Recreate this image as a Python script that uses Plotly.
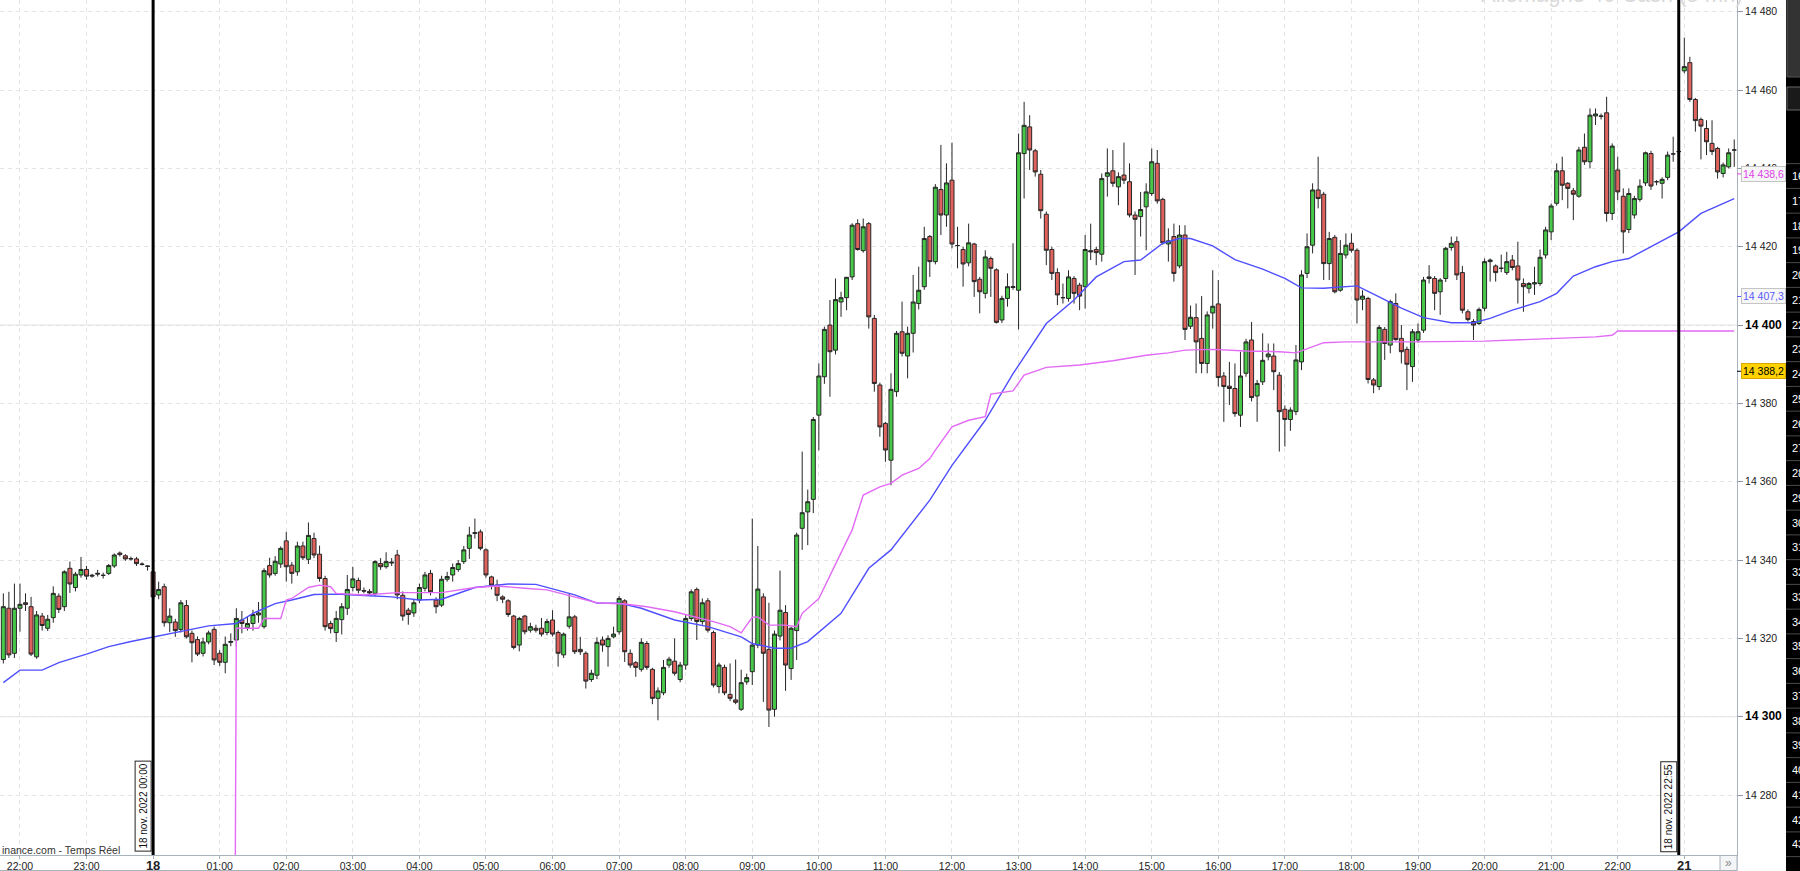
import plotly.graph_objects as go

# ---------------- data (5-min bars, index 0 = 17 nov 21:45) ----------------
bar_open = [
 14314.6, 14327.7, 14316.2, 14327.7, 14329.1, 14328.1, 14315.3, 14325.7, 14322.6, 14325.3,
 14330.8, 14328.1, 14337.9, 14333.0, 14336.2, 14337.6, 14335.9, 14336.4, 14336.1, 14336.6,
 14338.5, 14341.8, 14341.1, 14340.4, 14340.3, 14339.0, 14338.5, 14337.0, 14331.1, 14333.2,
 14324.0, 14324.2, 14322.3, 14328.4, 14321.3, 14319.7, 14316.2, 14319.1, 14322.3, 14316.2,
 14313.9, 14319.0, 14319.6, 14324.7, 14322.8, 14323.8, 14326.0, 14323.0, 14338.6, 14336.6,
 14339.0, 14344.9, 14338.7, 14337.0, 14343.6, 14340.2, 14345.5, 14341.5, 14335.3, 14323.8,
 14321.5, 14324.8, 14327.7, 14333.0, 14334.8, 14332.2, 14332.0, 14331.5, 14339.1, 14338.3,
 14339.5, 14341.3, 14331.0, 14327.2, 14326.5, 14329.8, 14332.8, 14336.6, 14329.8, 14328.5,
 14335.1, 14336.2, 14337.6, 14339.6, 14343.0, 14346.8, 14347.2, 14342.6, 14335.7, 14333.6,
 14330.6, 14329.6, 14325.7, 14318.3, 14325.7, 14322.1, 14322.6, 14322.6, 14321.5, 14324.7,
 14321.5, 14315.8, 14323.1, 14325.5, 14317.2, 14316.2, 14309.5, 14310.6, 14319.6, 14317.9,
 14320.4, 14321.7, 14329.6, 14316.2, 14313.8, 14312.1, 14318.7, 14312.1, 14304.7, 14306.1,
 14313.2, 14314.2, 14309.5, 14313.2, 14325.1, 14332.5, 14324.3, 14329.6, 14321.5, 14307.7,
 14312.6, 14305.7, 14304.3, 14301.9, 14308.9, 14311.5, 14318.3, 14330.6, 14317.2, 14301.9,
 14320.6, 14326.6, 14312.3, 14322.0, 14348.1, 14352.3, 14355.5, 14377.0, 14386.8, 14400.0,
 14393.6, 14405.9, 14407.0, 14412.3, 14425.9, 14419.0, 14425.9, 14401.7, 14384.7, 14374.9,
 14365.5, 14383.0, 14398.3, 14392.1, 14397.9, 14405.5, 14409.8, 14422.6, 14416.2, 14434.6,
 14428.1, 14437.0, 14420.3, 14419.3, 14415.9, 14420.7, 14411.7, 14408.1, 14417.0, 14414.1,
 14401.3, 14406.8, 14409.6, 14408.9, 14443.8, 14450.6, 14444.5, 14438.5, 14428.3, 14419.3,
 14413.4, 14407.0, 14406.8, 14411.9, 14410.2, 14409.8, 14419.0, 14419.3, 14418.1, 14438.0,
 14439.4, 14435.3, 14438.3, 14436.6, 14428.1, 14427.7, 14430.2, 14433.6, 14441.3, 14432.1,
 14420.7, 14422.6, 14415.1, 14423.0, 14399.7, 14401.9, 14396.6, 14390.2, 14403.1, 14405.4,
 14387.0, 14384.4, 14383.8, 14377.0, 14387.7, 14396.2, 14381.9, 14385.5, 14391.9, 14392.1,
 14387.2, 14378.5, 14375.9, 14377.9, 14390.6, 14413.2, 14420.4, 14434.5, 14433.4, 14415.7,
 14422.4, 14408.9, 14417.9, 14420.9, 14419.1, 14406.6, 14406.8, 14386.0, 14384.3, 14398.9,
 14394.9, 14405.5, 14396.6, 14393.8, 14389.4, 14396.2, 14398.7, 14411.9, 14411.9, 14408.5,
 14411.9, 14419.8, 14421.3, 14413.4, 14403.4, 14400.9, 14400.4, 14404.3, 14416.2, 14415.1,
 14414.5, 14413.4, 14416.6, 14415.1, 14410.6, 14409.4, 14410.5, 14410.6, 14417.9, 14423.8,
 14431.1, 14439.4, 14436.2, 14434.3, 14432.9, 14445.4, 14441.7, 14453.4, 14453.4, 14454.2,
 14428.5, 14439.6, 14432.9, 14424.4, 14428.1, 14432.1, 14436.3, 14443.8, 14436.6, 14436.2,
 14437.7, 14443.7, 14444.3, 14464.9, 14467.0, 14457.6, 14452.5, 14450.2, 14446.4, 14445.1,
 14438.7, 14440.4, 14444.7]
bar_high = [
 14331.5, 14331.9, 14334.0, 14334.0, 14331.5, 14330.6, 14327.0, 14326.5, 14326.0, 14333.3,
 14331.5, 14337.4, 14339.6, 14337.0, 14340.8, 14338.5, 14336.5, 14337.5, 14336.8, 14339.0,
 14341.7, 14342.2, 14341.5, 14340.9, 14340.8, 14339.4, 14338.7, 14337.5, 14334.5, 14334.0,
 14327.7, 14325.0, 14329.8, 14329.8, 14322.0, 14320.5, 14320.2, 14322.0, 14323.0, 14317.0,
 14320.5, 14321.3, 14327.7, 14327.0, 14325.5, 14327.3, 14329.3, 14337.9, 14340.6, 14341.0,
 14343.5, 14347.2, 14339.5, 14344.7, 14344.7, 14349.6, 14347.0, 14343.7, 14336.0, 14324.5,
 14327.0, 14329.0, 14336.2, 14338.3, 14335.5, 14333.0, 14332.6, 14340.0, 14340.5, 14342.0,
 14340.5, 14342.6, 14332.0, 14327.8, 14329.8, 14334.0, 14337.0, 14337.5, 14330.5, 14336.0,
 14337.0, 14339.1, 14340.0, 14343.6, 14348.5, 14350.6, 14347.8, 14343.0, 14336.0, 14335.0,
 14331.0, 14330.0, 14326.0, 14325.5, 14326.0, 14324.0, 14323.5, 14325.2, 14325.0, 14327.2,
 14322.0, 14321.5, 14331.5, 14326.0, 14320.4, 14316.7, 14312.0, 14320.3, 14320.5, 14320.8,
 14323.0, 14330.8, 14330.0, 14317.2, 14314.2, 14320.0, 14319.3, 14312.5, 14307.5, 14314.5,
 14315.3, 14320.0, 14314.0, 14326.0, 14332.5, 14333.0, 14330.2, 14330.3, 14322.0, 14313.8,
 14313.3, 14313.6, 14314.6, 14312.0, 14311.0, 14350.6, 14343.6, 14331.5, 14329.1, 14322.0,
 14337.3, 14328.5, 14323.0, 14347.0, 14367.7, 14358.0, 14376.5, 14390.2, 14399.6, 14406.4,
 14411.9, 14408.5, 14412.3, 14426.0, 14427.0, 14427.2, 14426.3, 14402.6, 14385.3, 14375.3,
 14387.7, 14398.5, 14406.0, 14399.6, 14412.8, 14414.9, 14425.1, 14423.0, 14436.0, 14446.0,
 14441.3, 14446.6, 14425.1, 14420.0, 14425.9, 14421.0, 14412.3, 14419.1, 14417.5, 14414.5,
 14407.5, 14413.2, 14420.9, 14448.9, 14457.0, 14453.6, 14445.0, 14439.6, 14429.0, 14420.0,
 14414.5, 14410.6, 14414.0, 14412.5, 14410.8, 14423.0, 14425.9, 14420.0, 14438.7, 14445.1,
 14444.7, 14439.0, 14446.6, 14441.3, 14429.0, 14434.0, 14436.2, 14445.1, 14444.7, 14432.5,
 14424.7, 14425.9, 14425.5, 14425.5, 14405.0, 14405.5, 14407.4, 14403.5, 14414.0, 14411.5,
 14388.0, 14390.6, 14390.2, 14393.2, 14396.5, 14400.8, 14386.0, 14397.9, 14395.3, 14395.3,
 14388.0, 14379.5, 14379.0, 14394.9, 14414.0, 14423.4, 14436.2, 14443.0, 14434.0, 14423.8,
 14423.0, 14421.7, 14423.4, 14423.4, 14419.6, 14408.9, 14407.2, 14386.5, 14400.0, 14399.5,
 14406.5, 14408.1, 14400.0, 14394.5, 14399.0, 14400.4, 14412.3, 14415.3, 14412.5, 14412.0,
 14420.0, 14422.6, 14422.6, 14415.1, 14404.0, 14401.5, 14404.5, 14417.0, 14417.0, 14415.5,
 14418.0, 14418.7, 14417.9, 14421.3, 14411.9, 14411.0, 14414.9, 14419.3, 14425.1, 14431.0,
 14441.3, 14443.0, 14436.5, 14435.0, 14445.5, 14448.9, 14455.3, 14455.3, 14454.0, 14458.3,
 14446.4, 14443.0, 14434.9, 14434.9, 14433.0, 14437.2, 14444.3, 14444.5, 14437.0, 14437.7,
 14444.3, 14448.1, 14445.0, 14473.4, 14468.5, 14458.0, 14453.0, 14452.3, 14452.3, 14445.5,
 14441.5, 14445.1, 14447.4]
bar_low = [
 14313.6, 14315.0, 14315.0, 14321.7, 14327.0, 14315.5, 14314.8, 14322.0, 14321.9, 14324.0,
 14326.5, 14327.0, 14331.6, 14332.0, 14335.5, 14335.0, 14335.5, 14335.8, 14335.3, 14336.2,
 14338.0, 14340.9, 14339.8, 14339.9, 14338.5, 14338.6, 14337.3, 14329.8, 14330.0, 14323.0,
 14321.6, 14320.4, 14321.5, 14320.0, 14313.9, 14315.5, 14315.4, 14318.5, 14313.2, 14313.0,
 14311.1, 14318.0, 14317.9, 14321.3, 14322.0, 14322.0, 14324.0, 14322.5, 14335.5, 14336.0,
 14338.0, 14334.5, 14334.0, 14336.0, 14340.0, 14339.0, 14340.5, 14334.5, 14322.0, 14321.3,
 14319.1, 14321.0, 14326.0, 14332.0, 14331.5, 14331.5, 14331.0, 14330.8, 14337.5, 14337.8,
 14338.5, 14330.0, 14324.5, 14323.5, 14325.5, 14329.0, 14332.0, 14331.0, 14326.4, 14328.0,
 14334.5, 14334.5, 14337.0, 14339.0, 14340.3, 14345.5, 14342.5, 14335.5, 14332.5, 14329.5,
 14329.0, 14325.5, 14317.2, 14316.7, 14321.0, 14321.5, 14321.5, 14320.5, 14320.8, 14320.5,
 14312.8, 14315.0, 14322.5, 14316.0, 14315.8, 14307.2, 14308.9, 14309.6, 14316.6, 14312.8,
 14320.0, 14321.0, 14314.0, 14312.5, 14310.2, 14311.5, 14312.0, 14303.2, 14299.1, 14305.5,
 14312.5, 14310.5, 14308.8, 14312.0, 14324.5, 14319.6, 14323.5, 14321.5, 14307.5, 14306.0,
 14305.5, 14304.0, 14303.2, 14301.5, 14308.2, 14308.1, 14317.5, 14303.8, 14297.4, 14300.0,
 14319.5, 14306.6, 14309.4, 14314.5, 14342.6, 14343.8, 14352.0, 14368.0, 14385.0, 14381.7,
 14392.5, 14402.1, 14403.8, 14411.5, 14419.0, 14418.5, 14399.1, 14383.0, 14371.5, 14365.1,
 14359.1, 14381.7, 14392.0, 14386.4, 14393.0, 14404.0, 14409.0, 14412.3, 14415.5, 14423.0,
 14425.1, 14419.6, 14414.5, 14409.8, 14415.0, 14407.2, 14403.0, 14406.8, 14407.2, 14400.4,
 14400.5, 14404.7, 14409.0, 14398.9, 14432.3, 14439.6, 14437.9, 14427.2, 14415.3, 14411.5,
 14405.1, 14405.5, 14406.0, 14405.5, 14403.8, 14404.2, 14416.6, 14415.3, 14416.2, 14432.8,
 14435.3, 14430.6, 14436.0, 14427.5, 14412.8, 14422.6, 14419.1, 14433.0, 14431.0, 14420.5,
 14416.2, 14411.1, 14414.5, 14396.2, 14399.0, 14387.7, 14387.7, 14387.7, 14399.1, 14384.3,
 14375.3, 14379.6, 14376.6, 14374.0, 14386.8, 14380.5, 14375.3, 14384.7, 14391.0, 14383.4,
 14367.7, 14369.0, 14373.0, 14377.0, 14388.5, 14412.0, 14418.3, 14429.8, 14411.5, 14411.5,
 14408.1, 14408.5, 14417.0, 14418.5, 14400.4, 14403.8, 14385.1, 14382.6, 14383.4, 14391.1,
 14392.8, 14396.0, 14390.2, 14383.4, 14385.5, 14395.5, 14398.0, 14410.6, 14403.8, 14402.6,
 14411.0, 14419.0, 14411.5, 14403.0, 14400.9, 14396.2, 14400.0, 14403.5, 14411.1, 14411.1,
 14413.5, 14412.8, 14414.0, 14405.5, 14403.4, 14408.1, 14407.7, 14410.0, 14417.0, 14421.7,
 14430.5, 14431.9, 14429.8, 14426.8, 14432.5, 14440.9, 14440.0, 14451.1, 14452.5, 14426.4,
 14426.8, 14431.9, 14418.3, 14423.5, 14427.2, 14431.5, 14435.5, 14434.5, 14435.7, 14432.3,
 14437.0, 14441.7, 14443.5, 14464.3, 14457.0, 14449.4, 14442.3, 14443.4, 14443.4, 14437.4,
 14437.7, 14440.0, 14440.4]
bar_close = [
 14328.1, 14315.8, 14327.7, 14328.7, 14328.7, 14316.0, 14326.0, 14323.3, 14324.9, 14331.5,
 14327.4, 14337.0, 14333.9, 14336.4, 14337.6, 14335.9, 14336.1, 14336.6, 14336.1, 14338.6,
 14341.3, 14341.4, 14340.3, 14340.3, 14339.1, 14338.9, 14338.4, 14330.6, 14332.5, 14324.0,
 14325.7, 14322.0, 14329.1, 14320.4, 14318.9, 14316.0, 14319.1, 14321.4, 14314.5, 14313.9,
 14318.5, 14319.2, 14325.1, 14323.8, 14323.8, 14326.1, 14326.5, 14337.3, 14336.2, 14339.7,
 14343.0, 14338.3, 14336.6, 14343.6, 14340.6, 14346.3, 14341.3, 14335.3, 14323.0, 14322.5,
 14325.1, 14328.1, 14332.5, 14335.2, 14332.3, 14332.1, 14331.6, 14339.6, 14338.3, 14339.6,
 14339.3, 14331.1, 14325.7, 14326.1, 14329.1, 14333.0, 14336.2, 14331.9, 14328.1, 14335.1,
 14335.8, 14338.1, 14339.1, 14342.6, 14346.4, 14347.0, 14343.0, 14336.2, 14333.6, 14331.0,
 14330.0, 14326.1, 14317.7, 14325.1, 14321.7, 14323.0, 14322.1, 14321.1, 14324.3, 14321.1,
 14316.2, 14321.1, 14325.5, 14316.6, 14316.6, 14309.1, 14311.1, 14319.0, 14318.3, 14320.0,
 14321.1, 14330.2, 14316.6, 14313.2, 14312.6, 14319.0, 14312.6, 14304.7, 14306.6, 14312.6,
 14314.7, 14311.1, 14313.2, 14325.1, 14331.9, 14324.3, 14329.1, 14322.1, 14308.1, 14313.2,
 14306.1, 14304.7, 14303.7, 14308.7, 14310.0, 14318.3, 14332.6, 14316.2, 14301.7, 14321.1,
 14327.2, 14313.2, 14322.6, 14346.4, 14352.1, 14354.9, 14375.9, 14387.0, 14398.9, 14393.2,
 14406.5, 14407.0, 14412.2, 14425.5, 14419.3, 14425.1, 14402.1, 14385.1, 14374.0, 14368.1,
 14383.6, 14397.9, 14392.8, 14397.9, 14405.9, 14408.9, 14422.1, 14416.2, 14435.2, 14428.1,
 14436.3, 14420.7, 14420.3, 14415.6, 14421.0, 14411.1, 14408.5, 14417.4, 14414.5, 14400.7,
 14406.8, 14409.8, 14409.8, 14444.0, 14451.0, 14444.7, 14439.1, 14429.2, 14419.1, 14413.2,
 14407.7, 14407.0, 14412.3, 14408.1, 14407.4, 14419.3, 14418.7, 14418.5, 14437.4, 14438.9,
 14436.2, 14437.9, 14437.0, 14428.1, 14427.0, 14429.5, 14434.0, 14441.7, 14431.7, 14421.0,
 14421.5, 14413.2, 14423.0, 14398.9, 14402.0, 14395.7, 14390.2, 14402.6, 14404.8, 14386.6,
 14384.3, 14383.8, 14377.4, 14387.0, 14395.7, 14381.5, 14385.1, 14391.0, 14392.6, 14388.1,
 14377.9, 14375.9, 14378.3, 14391.1, 14412.8, 14420.0, 14434.5, 14432.3, 14415.7, 14422.1,
 14408.5, 14418.3, 14420.4, 14419.1, 14406.4, 14407.4, 14386.1, 14384.7, 14399.4, 14395.3,
 14406.0, 14396.3, 14393.2, 14390.0, 14398.3, 14398.3, 14411.5, 14412.3, 14408.1, 14411.5,
 14419.6, 14420.9, 14412.8, 14403.8, 14401.4, 14400.0, 14404.0, 14416.2, 14416.6, 14413.4,
 14414.5, 14416.2, 14414.7, 14411.5, 14409.8, 14410.6, 14410.8, 14417.3, 14424.3, 14430.4,
 14439.4, 14435.7, 14434.9, 14433.4, 14444.7, 14441.7, 14453.6, 14453.9, 14453.3, 14428.5,
 14445.7, 14434.0, 14423.8, 14433.6, 14432.3, 14435.5, 14444.0, 14435.5, 14436.6, 14437.2,
 14443.4, 14443.7, 14444.3, 14466.0, 14457.6, 14452.2, 14450.8, 14446.8, 14444.3, 14439.1,
 14440.9, 14444.0, 14444.7]
bar_index = list(range(len(bar_open)))

# moving average (blue) read at selected bars
blue_idx = [0, 3, 7, 10, 15, 19, 23, 27, 32, 37, 42, 45, 49, 52, 56, 60, 66, 70, 75, 79,
            85, 91, 96, 100, 103, 107, 111, 115, 121, 127, 133, 135, 139, 142, 145, 151, 156, 160,
            167, 171, 177, 182, 188, 193, 197, 202, 205, 209, 212, 214, 218, 222, 227, 231, 234,
            238, 244, 248, 252, 256, 261, 265, 268, 272, 277, 280, 283, 287, 290, 293, 297, 302,
            306, 310, 312]
blue_val = [14308.7, 14311.9, 14311.9, 14313.8, 14316.0, 14317.9, 14319.2, 14320.3, 14321.7, 14323.2,
            14323.8, 14326.4, 14328.9, 14329.8, 14331.2, 14331.3, 14330.9, 14330.6, 14329.8, 14330.0,
            14333.0, 14333.9, 14333.8, 14332.3, 14331.1, 14329.0, 14329.0, 14327.7, 14324.7, 14323.0,
            14320.4, 14318.7, 14317.5, 14317.5, 14319.2, 14326.4, 14337.9, 14342.6, 14355.3, 14364.2,
            14375.7, 14387.6, 14400.4, 14406.4, 14412.3, 14416.2, 14416.6, 14420.9, 14422.1, 14422.1,
            14420.2, 14416.7, 14414.3, 14411.9, 14409.5, 14409.4, 14410.0, 14407.2, 14404.3, 14401.9,
            14400.6, 14400.6, 14401.7, 14403.8, 14406.0, 14408.1, 14412.5, 14414.9, 14416.2, 14417.0,
            14420.0, 14423.8, 14428.5, 14431.1, 14432.3]

# session VWAP-like line (magenta), starts 01:10
mag_idx = [41, 42, 46, 47, 50, 51, 52, 55, 57, 59, 60, 65, 71, 79, 85, 89, 94, 98, 101, 104,
           107, 112, 116, 121, 124, 128, 131, 133, 135, 136, 138, 141, 143, 144, 147, 150, 153,
           155, 158, 160, 162, 165, 167, 168, 171, 174, 177, 178, 182, 184, 188, 194, 200, 206,
           210, 213, 218, 224, 230, 233, 235, 238, 242, 254, 267, 280, 287, 290, 291, 302, 312]
mag_val = [14000.0, 14322.6, 14322.6, 14325.1, 14325.1, 14329.8, 14330.2, 14333.0, 14333.6, 14333.2,
           14331.5, 14331.1, 14331.7, 14331.7, 14333.0, 14333.4, 14332.8, 14332.4, 14331.3, 14330.2,
           14329.1, 14328.8, 14328.1, 14326.8, 14325.7, 14324.3, 14323.0, 14321.4, 14325.4, 14325.5,
           14323.4, 14323.4, 14323.0, 14326.4, 14330.2, 14339.1, 14347.7, 14356.6, 14358.7, 14359.6,
           14361.7, 14363.4, 14365.9, 14368.1, 14374.0, 14375.7, 14376.6, 14382.4, 14383.2, 14387.2,
           14389.2, 14389.8, 14390.9, 14392.3, 14392.9, 14393.6, 14393.8, 14393.4, 14393.2, 14392.9,
           14394.0, 14395.5, 14395.7, 14395.7, 14395.9, 14396.6, 14397.0, 14397.4, 14398.5, 14398.5,
           14398.5]

x_tick_index = [3, 15, 27, 39, 51, 63, 75, 87, 99, 111, 123, 135, 147, 159, 171, 183, 195,
                207, 219, 231, 243, 255, 267, 279, 291, 303]
x_tick_labels = ["22:00", "23:00", "18", "01:00", "02:00", "03:00", "04:00", "05:00", "06:00",
                 "07:00", "08:00", "09:00", "10:00", "11:00", "12:00", "13:00", "14:00", "15:00",
                 "16:00", "17:00", "18:00", "19:00", "20:00", "21:00", "22:00", "21"]
x_day_labels = ["18", "21"]

y_tick_vals = [14280, 14300, 14320, 14340, 14360, 14380, 14400, 14420, 14440, 14460, 14480]
y_tick_labels = ["14 280", "14 300", "14 320", "14 340", "14 360", "14 380", "14 400",
                 "14 420", "14 440", "14 460", "14 480"]
y_bold_vals = [14300, 14400]

day_line_index = [27, 302]
day_line_labels = ["18 nov. 2022 00:00", "18 nov. 2022 22:55"]

marker_vals = [14438.6, 14407.3, 14388.2]
marker_labels = ["14 438,6", "14 407,3", "14 388,2"]

side_rows = ["16", "17", "18", "19", "20", "21", "22", "23", "24", "25", "26", "27", "28", "29",
             "30", "31", "32", "33", "34", "35", "36", "37", "38", "39", "40", "41", "42", "43"]

# ---------------- geometry helpers (pixels -> paper) ----------------
FIG_W, FIG_H = 1800, 871
PLOT_R, PLOT_B = 1737, 855
Y_MIN, Y_MAX = 14264.7, 14483.0


def pxx(p):
    return p / PLOT_R


def pxy(p):
    return 1 - p / PLOT_B


def val_y(v):
    return (v - Y_MIN) / (Y_MAX - Y_MIN)


FONT = "Liberation Sans, Arial, sans-serif"

fig = go.Figure()
fig.add_trace(go.Candlestick(
    x=bar_index, open=bar_open, high=bar_high, low=bar_low, close=bar_close,
    increasing=dict(line=dict(color="#262626", width=1), fillcolor="#48c848"),
    decreasing=dict(line=dict(color="#262626", width=1), fillcolor="#e0625c"),
    whiskerwidth=0, hoverinfo="skip", showlegend=False))
fig.add_trace(go.Scatter(x=blue_idx, y=blue_val, mode="lines",
                         line=dict(color="#4f4fff", width=1.4), hoverinfo="skip", showlegend=False))
fig.add_trace(go.Scatter(x=mag_idx, y=mag_val, mode="lines",
                         line=dict(color="#e26af5", width=1.4), hoverinfo="skip", showlegend=False))

x_text = []
for lab in x_tick_labels:
    if lab in x_day_labels:
        x_text.append('<span style="font-size:13px"><b>%s</b></span>' % lab)
    else:
        x_text.append(lab)
y_text = []
for v, lab in zip(y_tick_vals, y_tick_labels):
    if v in y_bold_vals:
        y_text.append('<span style="font-size:12px;color:#000"><b>%s</b></span>' % lab)
    else:
        y_text.append(lab)

shapes = []
for v in y_bold_vals:
    shapes.append(dict(type="line", xref="paper", x0=0, x1=1, yref="y", y0=v, y1=v,
                       line=dict(color="#e2e2e2", width=1), layer="below"))
for xi in day_line_index:
    shapes.append(dict(type="line", xref="x", x0=xi, x1=xi, yref="paper", y0=0, y1=1,
                       line=dict(color="black", width=3), layer="above"))

marker_text_colors = ["#e040e8", "#5a5aff", "#000000"]
marker_bg = ["#f6f6f6", "#f6f6f6", "#ffd200"]
marker_border = ["#c4c4c4", "#c4c4c4", "#d8a800"]
marker_tick = ["#e040e8", "#5a5aff", "#000000"]
for v, c in zip(marker_vals, marker_tick):
    shapes.append(dict(type="line", xref="paper", x0=1, x1=pxx(1742), yref="paper",
                       y0=val_y(v), y1=val_y(v), line=dict(color=c, width=1)))

# x-axis strip borders and "»" button
shapes.append(dict(type="line", xref="paper", x0=0, x1=1, yref="paper", y0=pxy(870.5), y1=pxy(870.5),
                   line=dict(color="#a8b3bd", width=1)))
shapes.append(dict(type="line", xref="paper", x0=1, x1=1, yref="paper", y0=pxy(871), y1=0,
                   line=dict(color="#a8b3bd", width=1)))
shapes.append(dict(type="rect", xref="paper", x0=pxx(1720), x1=1, yref="paper", y0=pxy(870.5), y1=pxy(855.5),
                   fillcolor="#f4f5f6", line=dict(color="#a8b3bd", width=1)))

# dark side panel at the far right
shapes.append(dict(type="rect", xref="paper", x0=pxx(1786), x1=pxx(1810), yref="paper",
                   y0=pxy(880), y1=pxy(-10), fillcolor="#000000", line=dict(width=0)))
shapes.append(dict(type="rect", xref="paper", x0=pxx(1787), x1=pxx(1815), yref="paper",
                   y0=pxy(77), y1=pxy(-5), fillcolor="#333333", line=dict(color="#555555", width=1)))
shapes.append(dict(type="rect", xref="paper", x0=pxx(1787), x1=pxx(1815), yref="paper",
                   y0=pxy(110), y1=pxy(87), fillcolor="#1a1a1a", line=dict(color="#666666", width=1)))
row_y0, row_step = 176, 24.75
for k in range(len(side_rows) + 1):
    yy = row_y0 + row_step * k - row_step / 2
    shapes.append(dict(type="line", xref="paper", x0=pxx(1786), x1=pxx(1805), yref="paper",
                       y0=pxy(yy), y1=pxy(yy), line=dict(color="#4a4a4a", width=1)))

annotations = []
for xi, lab in zip(day_line_index, day_line_labels):
    annotations.append(dict(x=xi, xref="x", y=0, yref="paper", text=lab, textangle=-90,
                            xanchor="right", yanchor="bottom", xshift=-1.5, yshift=3,
                            showarrow=False, font=dict(family=FONT, size=10, color="#111"),
                            bgcolor="white", bordercolor="#222", borderwidth=1, borderpad=2))
for v, lab, tc, bg, bc in zip(marker_vals, marker_labels, marker_text_colors, marker_bg, marker_border):
    annotations.append(dict(x=1, xref="paper", y=v, yref="y", text=lab, xanchor="left",
                            yanchor="middle", xshift=4, showarrow=False,
                            font=dict(family=FONT, size=10.5, color=tc),
                            bgcolor=bg, bordercolor=bc, borderwidth=1, borderpad=1))
annotations.append(dict(x=0, xref="paper", y=pxy(850), yref="paper", text="inance.com - Temps Réel",
                        xanchor="left", yanchor="middle", showarrow=False,
                        font=dict(family=FONT, size=10.5, color="#333")))
annotations.append(dict(x=pxx(1612), xref="paper", y=1, yref="paper", text="Allemagne 40 Cash (5 mn)",
                        xanchor="center", yanchor="bottom", yshift=-9, showarrow=False,
                        font=dict(family=FONT, size=22, color="#dadada")))
annotations.append(dict(x=pxx(1728.5), xref="paper", y=pxy(863), yref="paper", text="»",
                        xanchor="center", yanchor="middle", showarrow=False,
                        font=dict(family=FONT, size=12, color="#8a8a8a")))
for k, lab in enumerate(side_rows):
    annotations.append(dict(x=pxx(1790), xref="paper", y=pxy(row_y0 + row_step * k), yref="paper",
                            text=lab, xanchor="left", yanchor="middle", showarrow=False,
                            font=dict(family=FONT, size=11, color="#ffffff")))

fig.update_layout(
    width=FIG_W, height=FIG_H,
    margin=dict(l=0, r=FIG_W - PLOT_R, t=0, b=FIG_H - PLOT_B, pad=0),
    paper_bgcolor="white", plot_bgcolor="white", showlegend=False,
    boxgap=0.15, boxgroupgap=0.15,
    font=dict(family=FONT, size=11, color="#222"),
    xaxis=dict(range=[-0.6, 312.5], tickmode="array", tickvals=x_tick_index, ticktext=x_text,
               showgrid=True, gridcolor="#e4e4e4", griddash="4px,4px", gridwidth=1,
               zeroline=False, showline=True, linecolor="#a8b3bd", linewidth=1,
               ticks="outside", ticklen=3, tickcolor="#a8b3bd", ticklabelstandoff=-2,
               tickfont=dict(family=FONT, size=10.5, color="#222"),
               rangeslider=dict(visible=False), fixedrange=True, automargin=False),
    yaxis=dict(side="right", range=[Y_MIN, Y_MAX], tickmode="array", tickvals=y_tick_vals,
               ticktext=y_text, showgrid=True, gridcolor="#e4e4e4", griddash="4px,4px",
               zeroline=False, showline=True, linecolor="#a8b3bd", linewidth=1,
               ticks="outside", ticklen=5, tickcolor="#8a95a0",
               tickfont=dict(family=FONT, size=10.5, color="#222"),
               fixedrange=True, automargin=False),
    shapes=shapes, annotations=annotations,
)

fig.write_html("out.html", config={"displayModeBar": False},
               post_script="document.body.style.margin='0px';document.body.style.overflow='hidden';")
